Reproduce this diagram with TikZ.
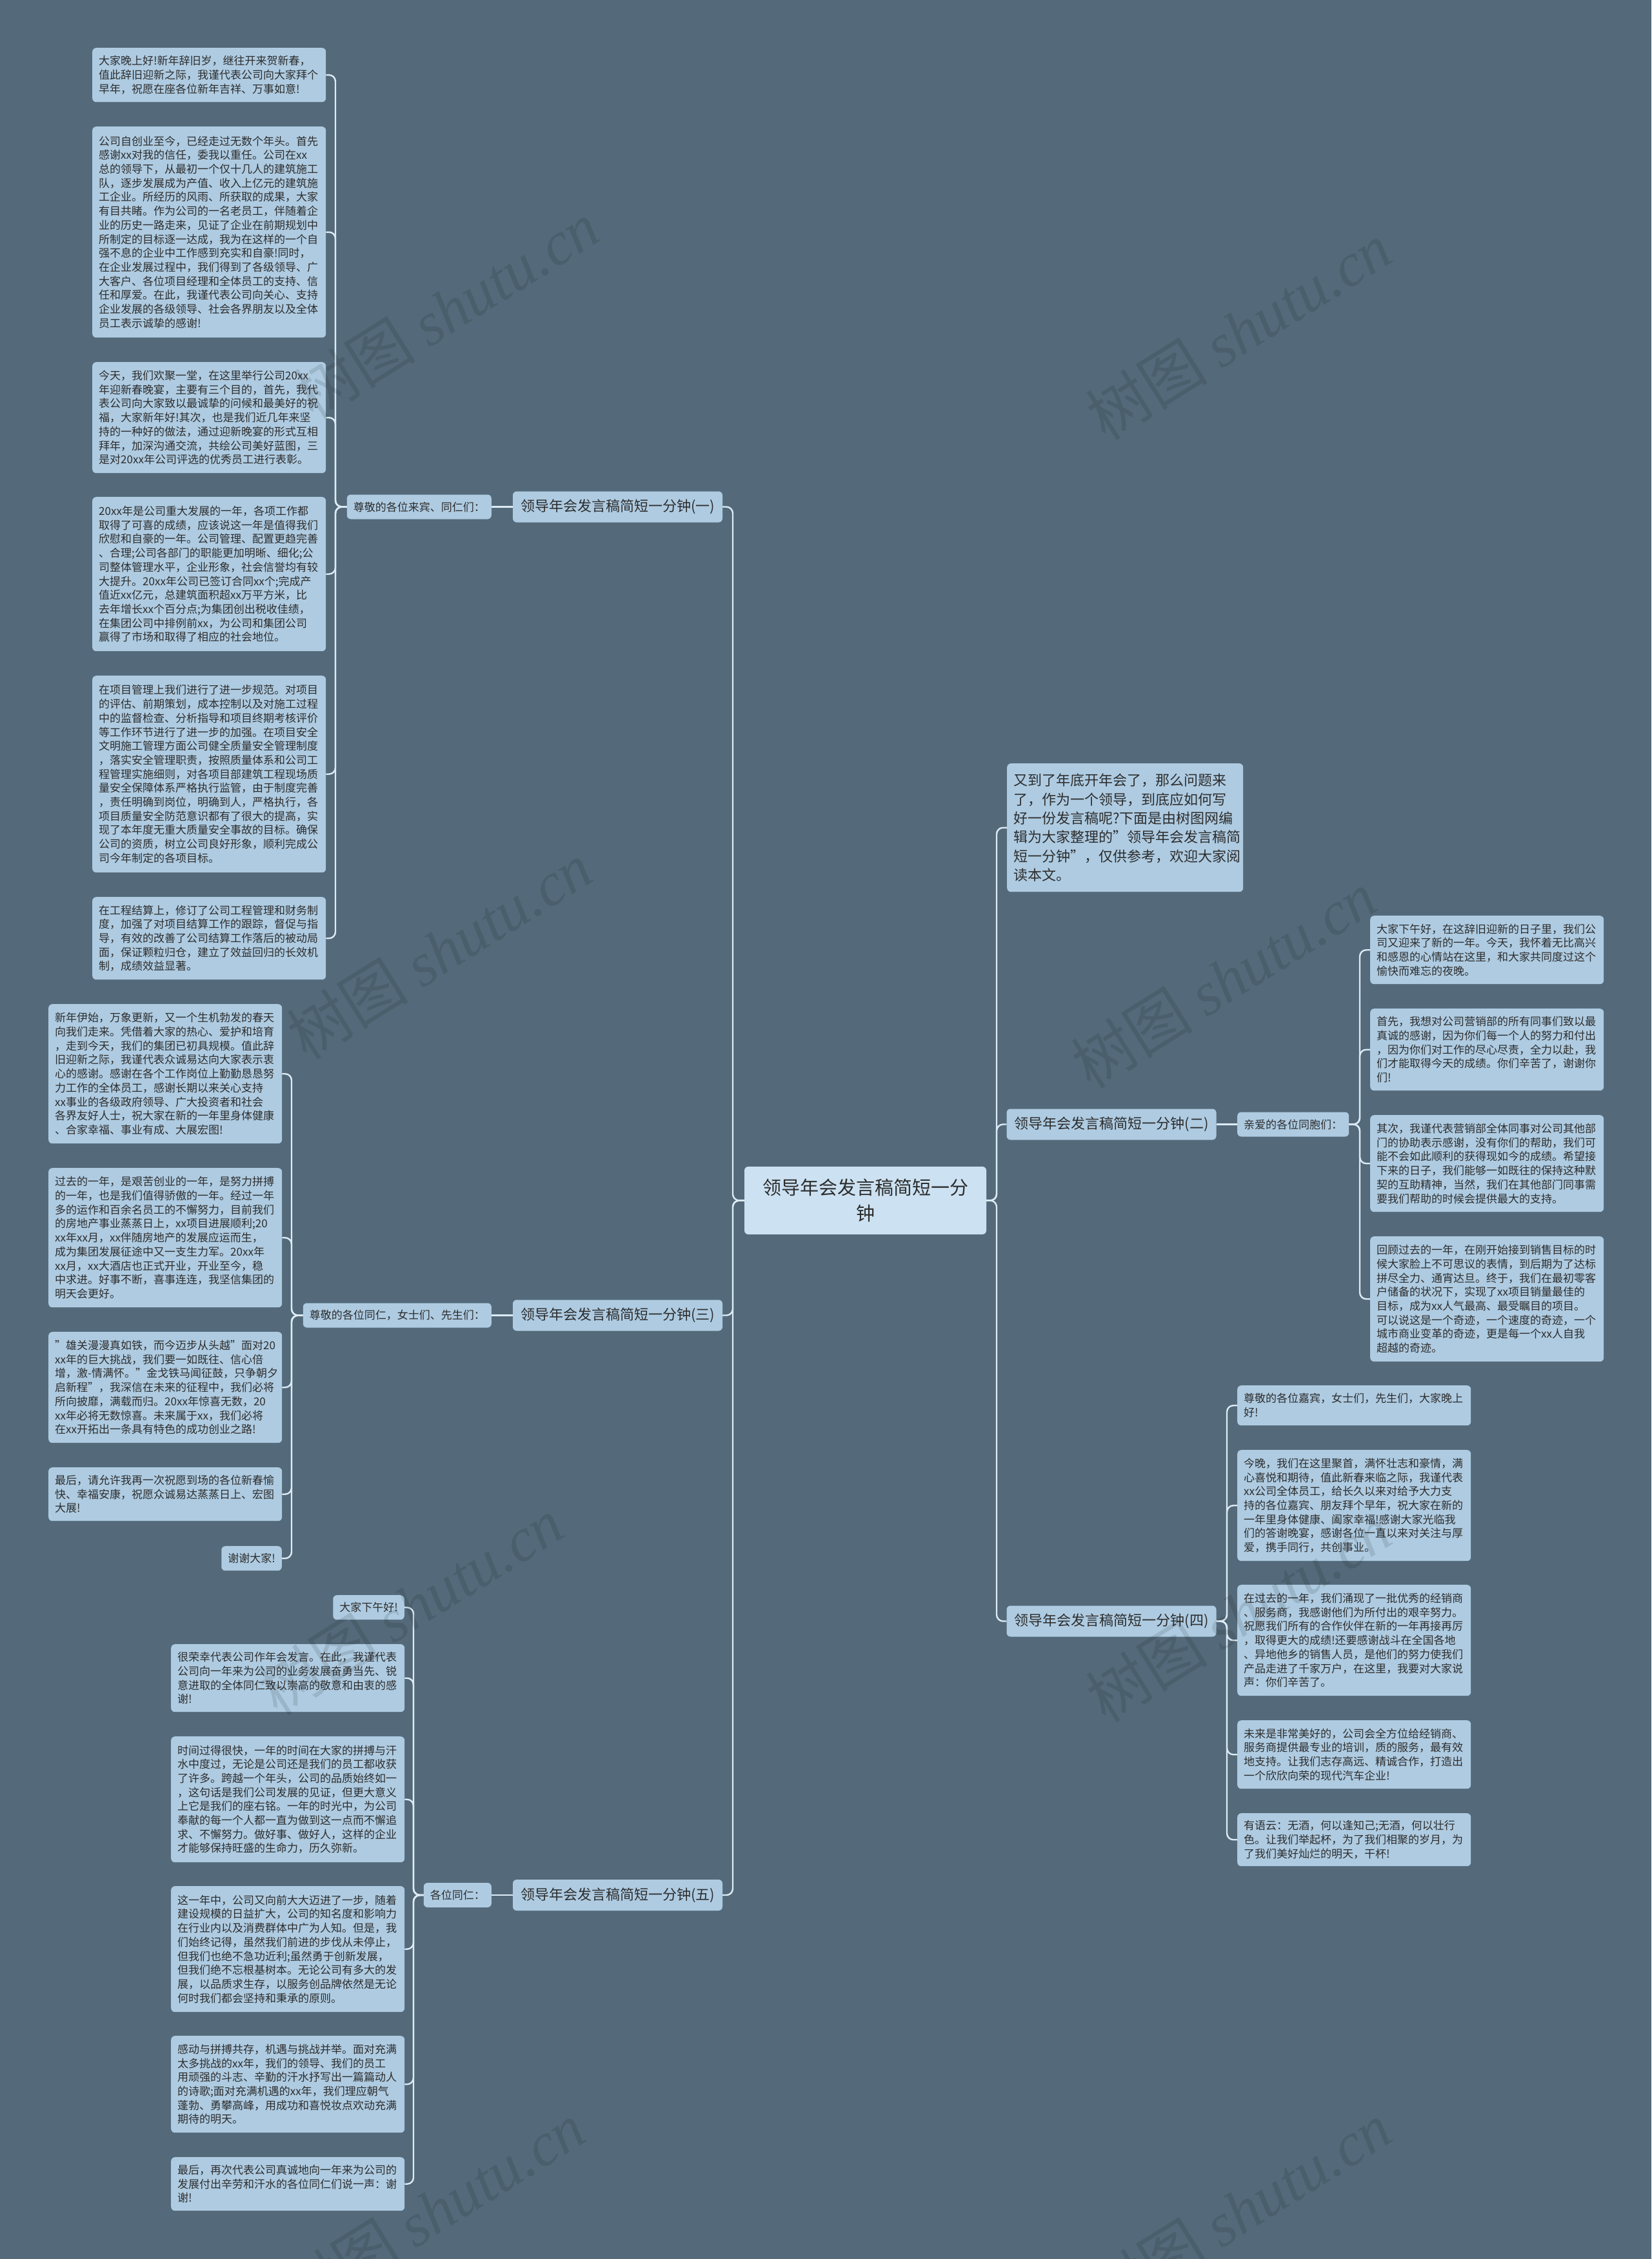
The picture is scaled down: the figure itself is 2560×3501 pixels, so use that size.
\documentclass[tikz,border=0pt]{standalone}
\usepackage{fontspec}
\setmainfont{Noto Sans CJK SC}
\newfontfamily\wmserif{Liberation Serif}
\usetikzlibrary{calc}
\definecolor{bgc}{RGB}{84,106,122}
\definecolor{leafc}{RGB}{174,203,225}
\definecolor{centerc}{RGB}{204,226,242}
\definecolor{txtc}{RGB}{45,45,45}
\definecolor{linec}{RGB}{220,235,245}
\begin{document}
\begin{tikzpicture}[x=1pt,y=-1pt,
  leaf/.style={fill=leafc, rounded corners=6pt, text=txtc, font=\fontsize{17}{21.7}\selectfont, align=left, text width=342pt, inner xsep=10pt, inner ysep=4pt, anchor=north west},
  shortleaf/.style={fill=leafc, rounded corners=6pt, text=txtc, font=\fontsize{17}{21.7}\selectfont, inner xsep=10pt, inner ysep=4pt, minimum height=38pt},
  lab/.style={fill=leafc, rounded corners=6pt, text=txtc, font=\fontsize{17}{21.7}\selectfont, inner xsep=10pt, inner ysep=4pt, minimum height=38pt},
  branch/.style={fill=leafc, rounded corners=6pt, text=txtc, font=\fontsize{22}{26}\selectfont, inner xsep=10pt, minimum width=325pt, minimum height=48pt},
  centernode/.style={fill=centerc, rounded corners=6pt, text=txtc, font=\fontsize{29}{40}\selectfont, align=center, text width=345pt, inner xsep=15pt, minimum height=105pt},
  intronode/.style={fill=leafc, rounded corners=6pt, text=txtc, font=\fontsize{22}{29.3}\selectfont, align=left, text width=346pt, inner xsep=10pt, inner ysep=4pt, anchor=north west},
  conn/.style={draw=linec, line width=2.4pt, rounded corners=10pt},
  wm/.style={text=black, text opacity=0.11, font=\fontsize{95}{100}\selectfont, rotate=32}]
\fill[bgc] (0,0) rectangle (2560,3501);
\useasboundingbox (0,0) rectangle (2560,3501);

% spine coordinates
\coordinate (sL) at (1136,0);
\coordinate (sR) at (1545,0);
\coordinate (s1) at (520,0);
\coordinate (s3) at (452,0);
\coordinate (s5) at (641,0);
\coordinate (s2) at (2108,0);
\coordinate (s4) at (1902,0);

% center
\node[centernode] (c) at (1341.5,1860.5) {领导年会发言稿简短一分\\钟};

% main branches
\node[branch] (b1) at (957.5,785.5) {领导年会发言稿简短一分钟(一)};
\node[branch] (b3) at (957.5,2038.5) {领导年会发言稿简短一分钟(三)};
\node[branch] (b5) at (957.5,2937) {领导年会发言稿简短一分钟(五)};
\node[branch] (b2) at (1723,1742.5) {领导年会发言稿简短一分钟(二)};
\node[branch] (b4) at (1723,2512.5) {领导年会发言稿简短一分钟(四)};
\node[intronode, minimum height=199pt] (intro) at (1561,1183) {又到了年底开年会了，那么问题来\\了，作为一个领导，到底应如何写\\好一份发言稿呢?下面是由树图网编\\辑为大家整理的"领导年会发言稿简\\短一分钟"，仅供参考，欢迎大家阅\\读本文。};

% labels
\node[lab, anchor=east] (lab1) at (762,785.5) {尊敬的各位来宾、同仁们：};
\node[lab, anchor=east] (lab3) at (762,2038.5) {尊敬的各位同仁，女士们、先生们：};
\node[lab, anchor=east] (lab5) at (762,2937) {各位同仁：};
\node[lab, anchor=west] (lab2) at (1918,1742.5) {亲爱的各位同胞们：};

% branch 1 leaves
\node[leaf, minimum height=84pt] (L1a) at (143,74) {大家晚上好!新年辞旧岁，继往开来贺新春，\\值此辞旧迎新之际，我谨代表公司向大家拜个\\早年，祝愿在座各位新年吉祥、万事如意!};
\node[leaf, minimum height=327pt] (L1b) at (143,196) {公司自创业至今，已经走过无数个年头。首先\\感谢xx对我的信任，委我以重任。公司在xx\\总的领导下，从最初一个仅十几人的建筑施工\\队，逐步发展成为产值、收入上亿元的建筑施\\工企业。所经历的风雨、所获取的成果，大家\\有目共睹。作为公司的一名老员工，伴随着企\\业的历史一路走来，见证了企业在前期规划中\\所制定的目标逐一达成，我为在这样的一个自\\强不息的企业中工作感到充实和自豪!同时，\\在企业发展过程中，我们得到了各级领导、广\\大客户、各位项目经理和全体员工的支持、信\\任和厚爱。在此，我谨代表公司向关心、支持\\企业发展的各级领导、社会各界朋友以及全体\\员工表示诚挚的感谢!};
\node[leaf, minimum height=172pt] (L1c) at (143,561) {今天，我们欢聚一堂，在这里举行公司20xx\\年迎新春晚宴，主要有三个目的，首先，我代\\表公司向大家致以最诚挚的问候和最美好的祝\\福，大家新年好!其次，也是我们近几年来坚\\持的一种好的做法，通过迎新晚宴的形式互相\\拜年，加深沟通交流，共绘公司美好蓝图，三\\是对20xx年公司评选的优秀员工进行表彰。};
\node[leaf, minimum height=239pt] (L1d) at (143,770) {20xx年是公司重大发展的一年，各项工作都\\取得了可喜的成绩，应该说这一年是值得我们\\欣慰和自豪的一年。公司管理、配置更趋完善\\、合理;公司各部门的职能更加明晰、细化;公\\司整体管理水平，企业形象，社会信誉均有较\\大提升。20xx年公司已签订合同xx个;完成产\\值近xx亿元，总建筑面积超xx万平方米，比\\去年增长xx个百分点;为集团创出税收佳绩，\\在集团公司中排例前xx，为公司和集团公司\\赢得了市场和取得了相应的社会地位。};
\node[leaf, minimum height=305pt] (L1e) at (143,1047) {在项目管理上我们进行了进一步规范。对项目\\的评估、前期策划，成本控制以及对施工过程\\中的监督检查、分析指导和项目终期考核评价\\等工作环节进行了进一步的加强。在项目安全\\文明施工管理方面公司健全质量安全管理制度\\，落实安全管理职责，按照质量体系和公司工\\程管理实施细则，对各项目部建筑工程现场质\\量安全保障体系严格执行监管，由于制度完善\\，责任明确到岗位，明确到人，严格执行，各\\项目质量安全防范意识都有了很大的提高，实\\现了本年度无重大质量安全事故的目标。确保\\公司的资质，树立公司良好形象，顺利完成公\\司今年制定的各项目标。};
\node[leaf, minimum height=128pt] (L1f) at (143,1390) {在工程结算上，修订了公司工程管理和财务制\\度，加强了对项目结算工作的跟踪，督促与指\\导，有效的改善了公司结算工作落后的被动局\\面，保证颗粒归仓，建立了效益回归的长效机\\制，成绩效益显著。};

% branch 3 leaves
\node[leaf, minimum height=216pt] (L3a) at (75,1556) {新年伊始，万象更新，又一个生机勃发的春天\\向我们走来。凭借着大家的热心、爱护和培育\\，走到今天，我们的集团已初具规模。值此辞\\旧迎新之际，我谨代表众诚易达向大家表示衷\\心的感谢。感谢在各个工作岗位上勤勤恳恳努\\力工作的全体员工，感谢长期以来关心支持\\xx事业的各级政府领导、广大投资者和社会\\各界友好人士，祝大家在新的一年里身体健康\\、合家幸福、事业有成、大展宏图!};
\node[leaf, minimum height=216pt] (L3b) at (75,1810) {过去的一年，是艰苦创业的一年，是努力拼搏\\的一年，也是我们值得骄傲的一年。经过一年\\多的运作和百余名员工的不懈努力，目前我们\\的房地产事业蒸蒸日上，xx项目进展顺利;20\\xx年xx月，xx伴随房地产的发展应运而生，\\成为集团发展征途中又一支生力军。20xx年\\xx月，xx大酒店也正式开业，开业至今，稳\\中求进。好事不断，喜事连连，我坚信集团的\\明天会更好。};
\node[leaf, minimum height=172pt] (L3c) at (75,2064) {"雄关漫漫真如铁，而今迈步从头越"面对20\\xx年的巨大挑战，我们要一如既往、信心倍\\增，激-情满怀。"金戈铁马闻征鼓，只争朝夕\\启新程"，我深信在未来的征程中，我们必将\\所向披靡，满载而归。20xx年惊喜无数，20\\xx年必将无数惊喜。未来属于xx，我们必将\\在xx开拓出一条具有特色的成功创业之路!};
\node[leaf, minimum height=83pt] (L3d) at (75,2274) {最后，请允许我再一次祝愿到场的各位新春愉\\快、幸福安康，祝愿众诚易达蒸蒸日上、宏图\\大展!};
\node[shortleaf, anchor=north east] (L3e) at (437,2396) {谢谢大家!};

% branch 5 leaves
\node[shortleaf, anchor=north east] (L5a) at (627,2472) {大家下午好!};
\node[leaf, minimum height=105pt] (L5b) at (265,2548) {很荣幸代表公司作年会发言。在此，我谨代表\\公司向一年来为公司的业务发展奋勇当先、锐\\意进取的全体同仁致以崇高的敬意和由衷的感\\谢!};
\node[leaf, minimum height=195pt] (L5c) at (265,2691) {时间过得很快，一年的时间在大家的拼搏与汗\\水中度过，无论是公司还是我们的员工都收获\\了许多。跨越一个年头，公司的品质始终如一\\，这句话是我们公司发展的见证，但更大意义\\上它是我们的座右铭。一年的时光中，为公司\\奉献的每一个人都一直为做到这一点而不懈追\\求、不懈努力。做好事、做好人，这样的企业\\才能够保持旺盛的生命力，历久弥新。};
\node[leaf, minimum height=195pt] (L5d) at (265,2923) {这一年中，公司又向前大大迈进了一步，随着\\建设规模的日益扩大，公司的知名度和影响力\\在行业内以及消费群体中广为人知。但是，我\\们始终记得，虽然我们前进的步伐从未停止，\\但我们也绝不急功近利;虽然勇于创新发展，\\但我们绝不忘根基树本。无论公司有多大的发\\展，以品质求生存，以服务创品牌依然是无论\\何时我们都会坚持和秉承的原则。};
\node[leaf, minimum height=150pt] (L5e) at (265,3155) {感动与拼搏共存，机遇与挑战并举。面对充满\\太多挑战的xx年，我们的领导、我们的员工\\用顽强的斗志、辛勤的汗水抒写出一篇篇动人\\的诗歌;面对充满机遇的xx年，我们理应朝气\\蓬勃、勇攀高峰，用成功和喜悦妆点欢动充满\\期待的明天。};
\node[leaf, minimum height=83pt] (L5f) at (265,3343) {最后，再次代表公司真诚地向一年来为公司的\\发展付出辛劳和汗水的各位同仁们说一声：谢\\谢!};

% branch 2 leaves
\node[leaf, minimum height=106pt] (L2a) at (2124,1419) {大家下午好，在这辞旧迎新的日子里，我们公\\司又迎来了新的一年。今天，我怀着无比高兴\\和感恩的心情站在这里，和大家共同度过这个\\愉快而难忘的夜晚。};
\node[leaf, minimum height=127pt] (L2b) at (2124,1563) {首先，我想对公司营销部的所有同事们致以最\\真诚的感谢，因为你们每一个人的努力和付出\\，因为你们对工作的尽心尽责，全力以赴，我\\们才能取得今天的成绩。你们辛苦了，谢谢你\\们!};
\node[leaf, minimum height=150pt] (L2c) at (2124,1728) {其次，我谨代表营销部全体同事对公司其他部\\门的协助表示感谢，没有你们的帮助，我们可\\能不会如此顺利的获得现如今的成绩。希望接\\下来的日子，我们能够一如既往的保持这种默\\契的互助精神，当然，我们在其他部门同事需\\要我们帮助的时候会提供最大的支持。};
\node[leaf, minimum height=194pt] (L2d) at (2124,1916) {回顾过去的一年，在刚开始接到销售目标的时\\候大家脸上不可思议的表情，到后期为了达标\\拼尽全力、通宵达旦。终于，我们在最初零客\\户储备的状况下，实现了xx项目销量最佳的\\目标，成为xx人气最高、最受瞩目的项目。\\可以说这是一个奇迹，一个速度的奇迹，一个\\城市商业变革的奇迹，更是每一个xx人自我\\超越的奇迹。};

% branch 4 leaves
\node[leaf, minimum height=62pt] (L4a) at (1918,2147) {尊敬的各位嘉宾，女士们，先生们，大家晚上\\好!};
\node[leaf, minimum height=172pt] (L4b) at (1918,2247) {今晚，我们在这里聚首，满怀壮志和豪情，满\\心喜悦和期待，值此新春来临之际，我谨代表\\xx公司全体员工，给长久以来对给予大力支\\持的各位嘉宾、朋友拜个早年，祝大家在新的\\一年里身体健康、阖家幸福!感谢大家光临我\\们的答谢晚宴，感谢各位一直以来对关注与厚\\爱，携手同行，共创事业。};
\node[leaf, minimum height=172pt] (L4c) at (1918,2456) {在过去的一年，我们涌现了一批优秀的经销商\\、服务商，我感谢他们为所付出的艰辛努力。\\祝愿我们所有的合作伙伴在新的一年再接再厉\\，取得更大的成绩!还要感谢战斗在全国各地\\、异地他乡的销售人员，是他们的努力使我们\\产品走进了千家万户，在这里，我要对大家说\\声：你们辛苦了。};
\node[leaf, minimum height=106pt] (L4d) at (1918,2666) {未来是非常美好的，公司会全方位给经销商、\\服务商提供最专业的培训，质的服务，最有效\\地支持。让我们志存高远、精诚合作，打造出\\一个欣欣向荣的现代汽车企业!};
\node[leaf, minimum height=82pt] (L4e) at (1918,2810) {有语云：无酒，何以逢知己;无酒，何以壮行\\色。让我们举起杯，为了我们相聚的岁月，为\\了我们美好灿烂的明天，干杯!};

% connectors: center to branches
\foreach \b in {b1,b3,b5} \draw[conn] (c.west) -- (c.west -| sL) |- (\b.east);
\foreach \b in {intro,b2,b4} \draw[conn] (c.east) -- (c.east -| sR) |- (\b.west);
% branch 1
\draw[conn] (b1.west) -- (lab1.east);
\foreach \l in {L1a,L1b,L1c,L1d,L1e,L1f} \draw[conn] (lab1.west) -- (lab1.west -| s1) |- (\l.east);
% branch 3
\draw[conn] (b3.west) -- (lab3.east);
\foreach \l in {L3a,L3b,L3c,L3d,L3e} \draw[conn] (lab3.west) -- (lab3.west -| s3) |- (\l.east);
% branch 5
\draw[conn] (b5.west) -- (lab5.east);
\foreach \l in {L5a,L5b,L5c,L5d,L5e,L5f} \draw[conn] (lab5.west) -- (lab5.west -| s5) |- (\l.east);
% branch 2
\draw[conn] (b2.east) -- (lab2.west);
\foreach \l in {L2a,L2b,L2c,L2d} \draw[conn] (lab2.east) -- (lab2.east -| s2) |- (\l.west);
% branch 4
\foreach \l in {L4a,L4b,L4c,L4d,L4e} \draw[conn] (b4.east) -- (b4.east -| s4) |- (\l.west);

% watermarks
\node[wm] (w1) at (692,480) {树图 {\wmserif\itshape shutu.cn}};
\node[wm] (w2) at (1920,513) {树图 {\wmserif\itshape shutu.cn}};
\node[wm] (w3) at (681,1473) {树图 {\wmserif\itshape shutu.cn}};
\node[wm] (w4) at (1897,1518) {树图 {\wmserif\itshape shutu.cn}};
\node[wm] (w5) at (636,2489) {树图 {\wmserif\itshape shutu.cn}};
\node[wm] (w6) at (1920,2500) {树图 {\wmserif\itshape shutu.cn}};
\node[wm] (w7) at (670,3426) {树图 {\wmserif\itshape shutu.cn}};
\node[wm] (w8) at (1920,3426) {树图 {\wmserif\itshape shutu.cn}};
\end{tikzpicture}
\end{document}
